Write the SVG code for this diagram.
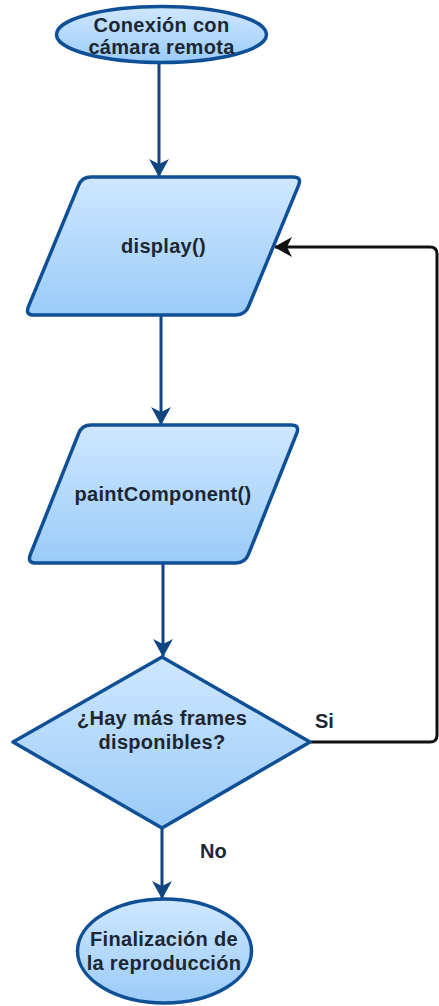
<svg xmlns="http://www.w3.org/2000/svg" width="439" height="1006" viewBox="0 0 439 1006">
  <defs>
    <linearGradient id="nodeFill" x1="0" y1="0" x2="0" y2="1">
      <stop offset="0" stop-color="#cfe7ff"/>
      <stop offset="1" stop-color="#9acbf8"/>
    </linearGradient>
    <marker id="arrowBlue" markerUnits="userSpaceOnUse" viewBox="0 0 18 20" markerWidth="18" markerHeight="20" refX="17" refY="10" orient="auto">
      <path d="M0,0 L18,10 L0,20 L5,10 Z" fill="#0f4580"/>
    </marker>
    <marker id="arrowBlack" markerUnits="userSpaceOnUse" viewBox="0 0 18 20" markerWidth="18" markerHeight="20" refX="17" refY="10" orient="auto">
      <path d="M0,0 L18,10 L0,20 L5,10 Z" fill="#111111"/>
    </marker>
    <style>
      .shape { fill: url(#nodeFill); stroke: #0f4f96; stroke-width: 3.5; stroke-linejoin: round; }
      .label { font-family: "Liberation Sans", Arial, Helvetica, sans-serif; font-weight: bold; font-size: 20px; fill: #1c2733; text-anchor: middle; letter-spacing: 0.3px; }
      .edge-label { font-family: "Liberation Sans", Arial, Helvetica, sans-serif; font-weight: bold; font-size: 20px; fill: #1c2733; }
      .flow { fill: none; stroke: #0f4580; stroke-width: 3; marker-end: url(#arrowBlue); }
      .loop { fill: none; stroke: #111111; stroke-width: 3; marker-end: url(#arrowBlack); }
    </style>
  </defs>

  <!-- connectors -->
  <g id="connectors">
    <path class="flow" d="M159,62 L159,176"/>
    <path class="flow" d="M161,316 L161,424"/>
    <path class="flow" d="M163,564 L163,656"/>
    <path class="flow" d="M162,829 L162,898"/>
    <path class="loop" d="M310,742 L430,742 Q437,742 437,735 L437,254 Q437,247 430,247 L275,247"/>
    <text class="edge-label" x="315" y="728">Si</text>
    <text class="edge-label" x="200" y="858">No</text>
  </g>

  <!-- start terminator -->
  <g id="start">
    <ellipse class="shape" cx="161.5" cy="34.5" rx="105" ry="28"/>
    <text class="label" x="161.5" y="32">Conexión con</text>
    <text class="label" x="161.5" y="54">cámara remota</text>
  </g>

  <!-- display() step -->
  <g id="display">
    <path class="shape" d="M91,177 L293,177 Q302,177 298.56,185.32 L248.44,306.68 Q245,315 236,315 L34,315 Q25,315 28.44,306.68 L78.56,185.32 Q82,177 91,177 Z"/>
    <text class="label" x="163.5" y="253">display()</text>
  </g>

  <!-- paintComponent() step -->
  <g id="paint">
    <path class="shape" d="M91,425 L291,425 Q300,425 296.67,433.36 L248.33,554.64 Q245,563 236,563 L36,563 Q27,563 30.33,554.64 L78.67,433.36 Q82,425 91,425 Z"/>
    <text class="label" x="163" y="501">paintComponent()</text>
  </g>

  <!-- decision -->
  <g id="decision">
    <path class="shape" d="M162,657 L310,742 L162,828 L13,742 Z"/>
    <text class="label" x="162" y="725">¿Hay más frames</text>
    <text class="label" x="162" y="749">disponibles?</text>
  </g>

  <!-- end terminator -->
  <g id="end">
    <ellipse class="shape" cx="164.5" cy="951" rx="87" ry="52"/>
    <text class="label" x="164" y="946">Finalización de</text>
    <text class="label" x="164" y="970">la reproducción</text>
  </g>
</svg>
